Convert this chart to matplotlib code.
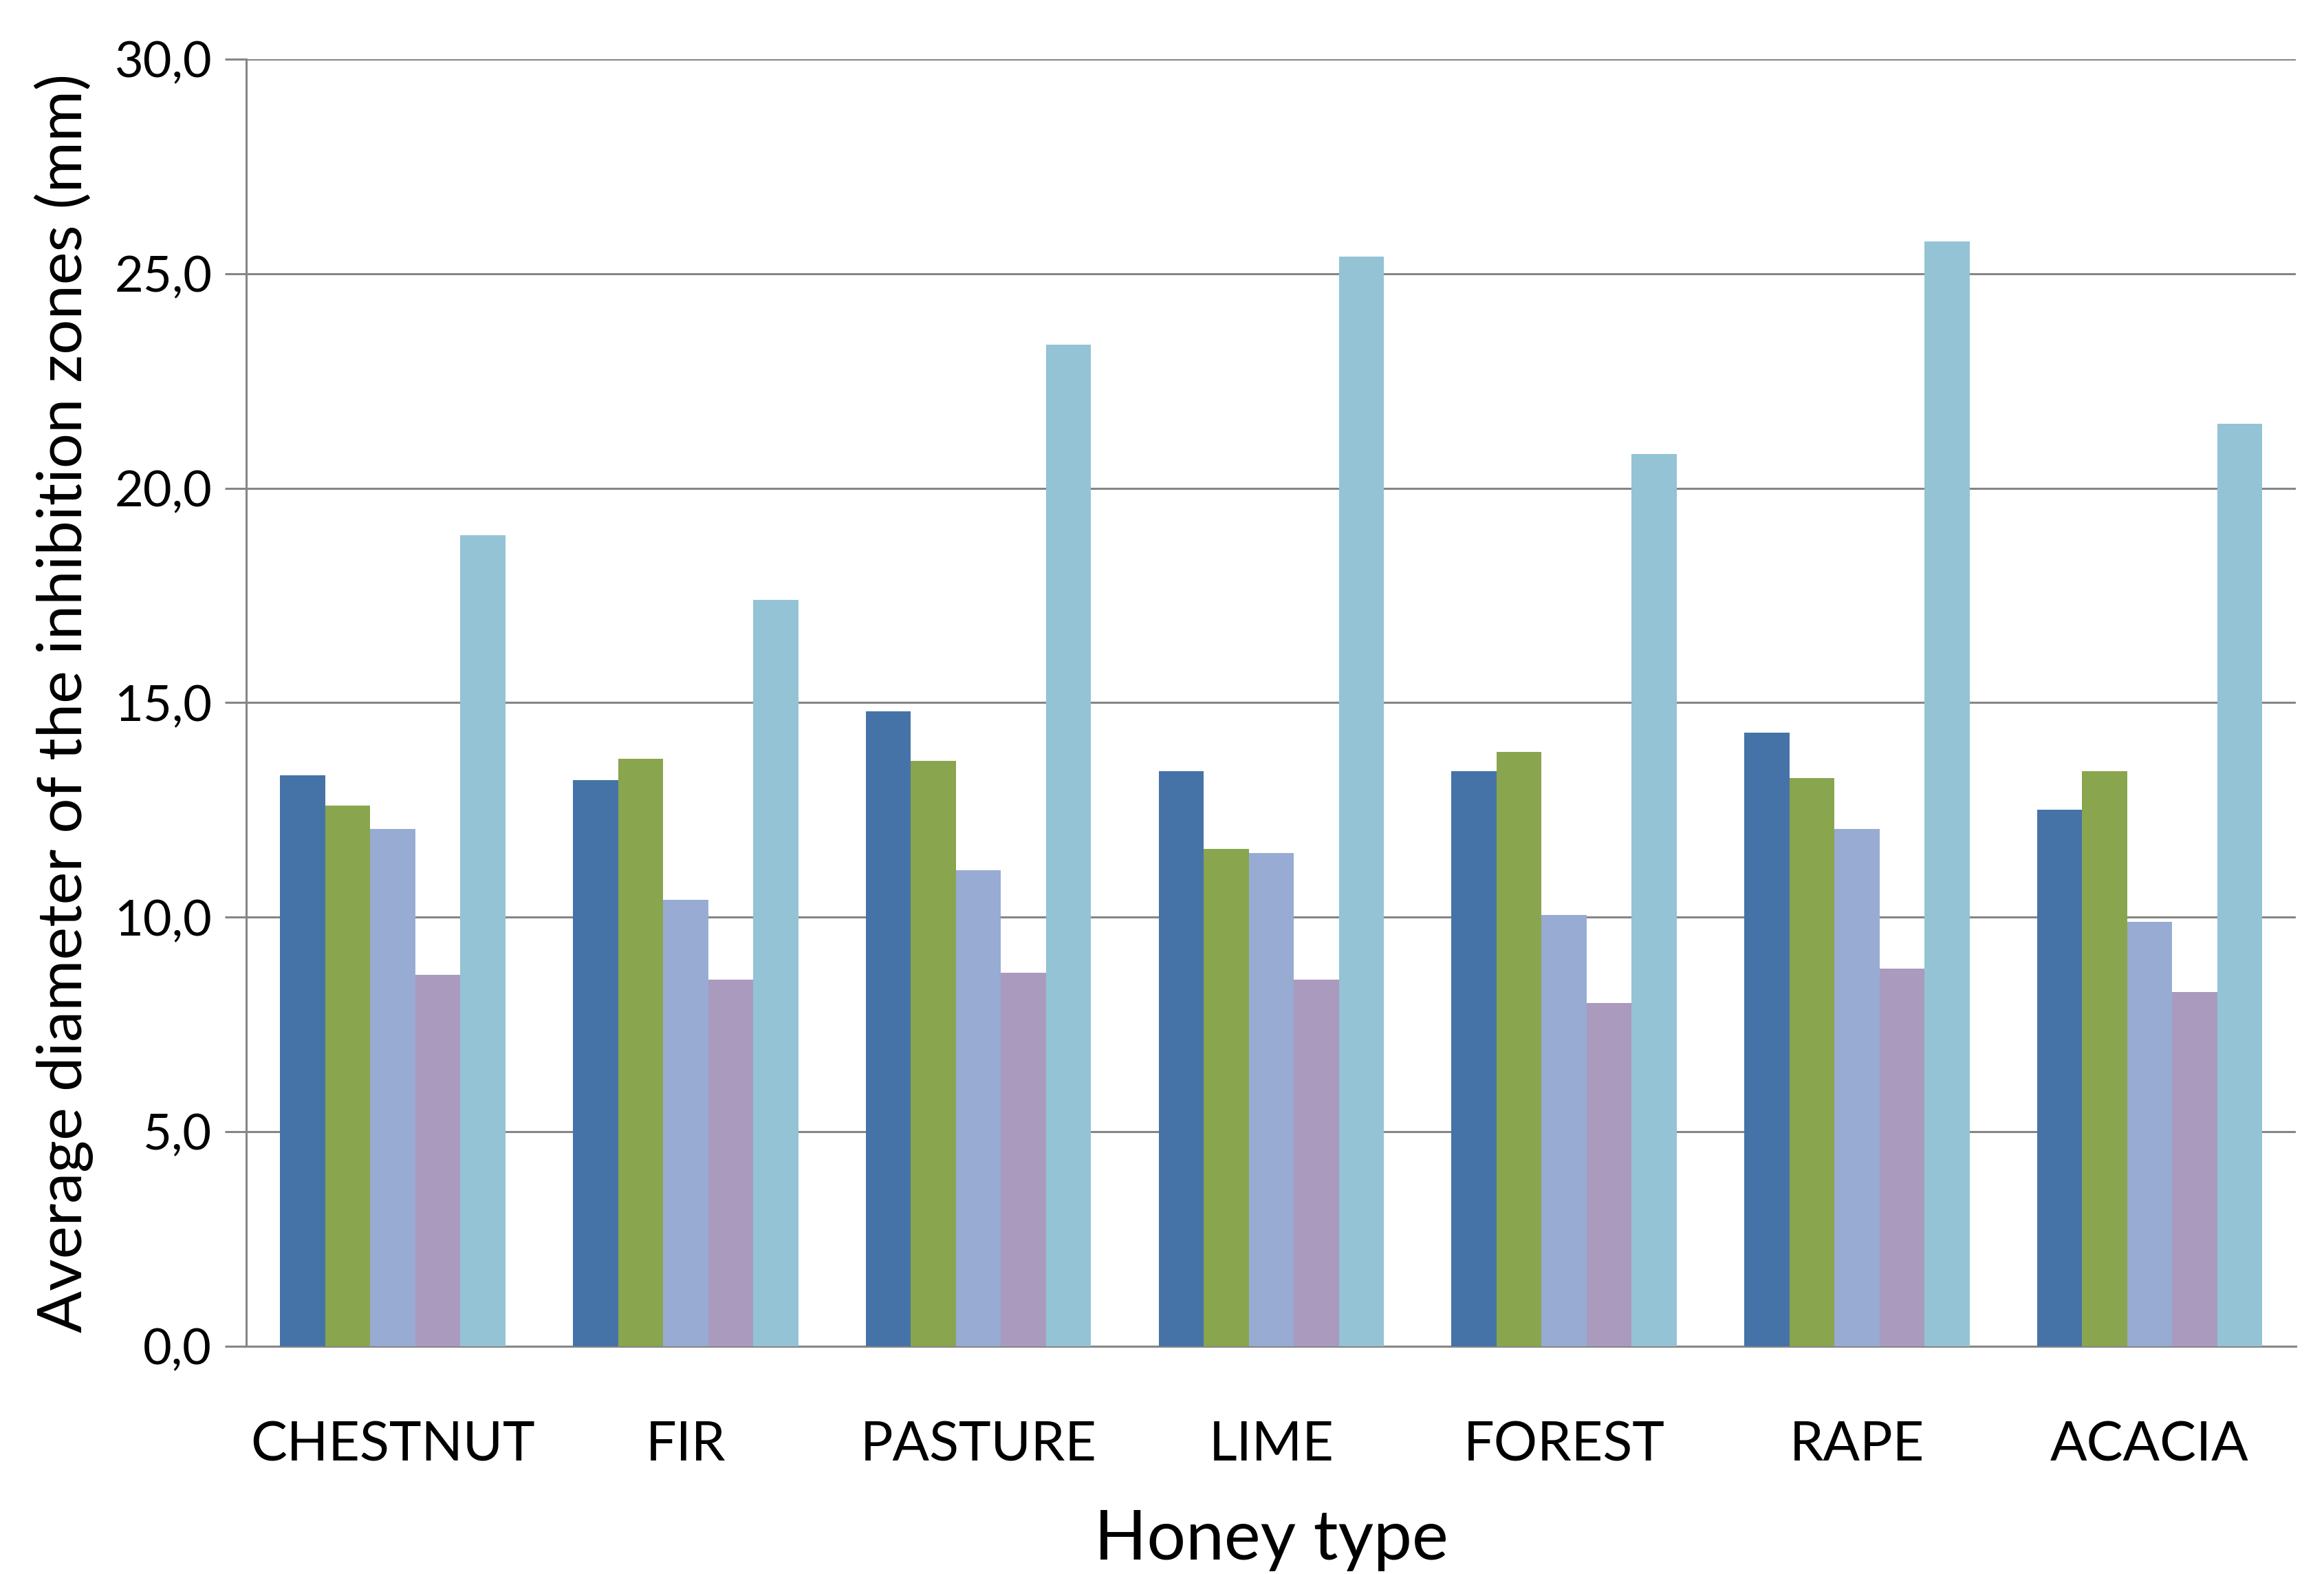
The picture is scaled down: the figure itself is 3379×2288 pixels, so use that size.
import numpy as np
import matplotlib
matplotlib.use('Agg')
import matplotlib.pyplot as plt
from matplotlib.ticker import FuncFormatter

honey = ['CHESTNUT', 'FIR', 'PASTURE', 'LIME', 'FOREST', 'RAPE', 'ACACIA']
s1 = [13.3, 13.2, 14.8, 13.4, 13.4, 14.3, 12.5]
s2 = [12.6, 13.7, 13.65, 11.6, 13.85, 13.25, 13.4]
s3 = [12.05, 10.4, 11.1, 11.5, 10.05, 12.05, 9.9]
s4 = [8.65, 8.55, 8.7, 8.55, 8.0, 8.8, 8.25]
s5 = [18.9, 17.4, 23.35, 25.4, 20.8, 25.75, 21.5]
series = [s1, s2, s3, s4, s5]
colors = ['#4573A7', '#89A54E', '#97ABD3', '#AA9ABE', '#93C3D5']

plt.rcParams['font.family'] = ['Lato', 'DejaVu Sans']

fig = plt.figure(figsize=(33.79, 22.88), dpi=100)
ax = fig.add_axes([0.106, 0.1447, 0.882, 0.8177])

x = np.arange(len(honey))
w = 1 / 6.5
for i, s in enumerate(series):
    ax.bar(x + (i - 2) * w, s, width=w, color=colors[i], zorder=3)

ax.set_xlim(-0.5, len(honey) - 0.5)
ax.set_ylim(0, 30)
ax.set_yticks(np.arange(0, 30.1, 5))
ax.yaxis.set_major_formatter(FuncFormatter(lambda v, p: f'{v:.1f}'.replace('.', ',')))
ax.grid(axis='y', color='#868686', linewidth=2.2, zorder=0)
for side in ['top', 'right']:
    ax.spines[side].set_visible(False)
ax.spines['left'].set_color('#868686')
ax.spines['bottom'].set_color('#868686')
ax.spines['left'].set_linewidth(2.2)
ax.spines['bottom'].set_linewidth(2.2)
ax.tick_params(axis='y', length=22, width=2.2, color='#868686', labelsize=52, pad=14)
ax.tick_params(axis='x', length=0, labelsize=57, pad=78)
ax.set_xticks(x)
ax.set_xticklabels(honey)
ax.set_xlabel('Honey type', fontsize=72, labelpad=40)
ax.set_ylabel('Average diameter of the inhibition zones (mm)', fontsize=65, labelpad=22)

fig.savefig('out.png', dpi=100)
